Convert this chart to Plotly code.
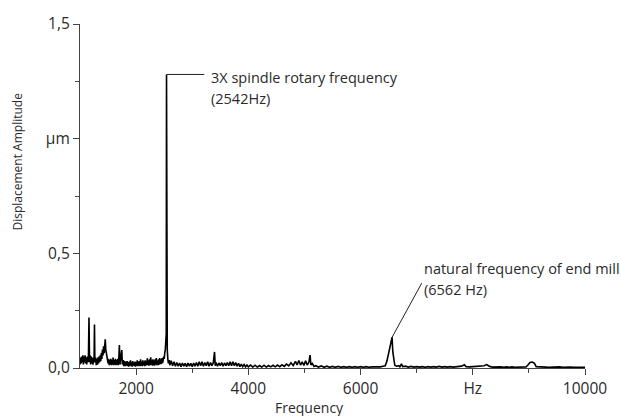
import plotly.graph_objects as go

# ---------------- data ----------------
FREQ_LOW = [1000, 1010, 1020, 1030, 1040, 1050, 1060, 1070, 1080, 1090, 1100, 1110, 1120, 1130,
            1140, 1150, 1160, 1170, 1180, 1190, 1200, 1210, 1220, 1230, 1240, 1250, 1258, 1265,
            1280, 1290, 1300, 1310, 1320, 1330, 1340, 1350, 1360, 1370, 1380, 1390, 1400, 1410,
            1420, 1430, 1440, 1450, 1460, 1470, 1480, 1490, 1500, 1510, 1520, 1530, 1540, 1550,
            1560, 1570, 1580, 1590, 1600, 1610, 1620, 1630, 1640, 1650, 1660, 1670, 1680, 1690,
            1702, 1712, 1730, 1745, 1755, 1770, 1780, 1790]
AMP_LOW = [0.015, 0.045, 0.02, 0.05, 0.025, 0.055, 0.015, 0.05, 0.025, 0.055, 0.02, 0.045, 0.015, 0.05,
           0.025, 0.045, 0.22, 0.025, 0.055, 0.015, 0.05, 0.02, 0.045, 0.015, 0.04, 0.025, 0.19, 0.025,
           0.045, 0.012, 0.04, 0.015, 0.045, 0.02, 0.05, 0.025, 0.055, 0.03, 0.065, 0.04, 0.08, 0.055,
           0.095, 0.065, 0.11, 0.125, 0.08, 0.065, 0.045, 0.04, 0.02, 0.04, 0.012, 0.035, 0.015, 0.04,
           0.012, 0.035, 0.015, 0.045, 0.012, 0.035, 0.015, 0.04, 0.012, 0.035, 0.015, 0.04, 0.012, 0.035,
           0.10, 0.015, 0.04, 0.078, 0.015, 0.035, 0.008, 0.03]

FREQ_MID1 = [1800, 1810, 1820, 1830, 1840, 1850, 1860, 1870, 1880, 1890, 1900, 1910, 1920, 1930,
             1940, 1950, 1960, 1970, 1980, 1990, 2000, 2010, 2020, 2030, 2040, 2050, 2060, 2070,
             2080, 2090, 2100, 2110, 2120, 2130, 2140, 2150, 2160, 2170, 2180, 2190, 2200, 2210,
             2220, 2230, 2240, 2250, 2260, 2270, 2280, 2290, 2300, 2310, 2320, 2330, 2340, 2350,
             2360, 2370, 2380, 2390, 2400, 2410, 2420, 2430, 2440, 2450, 2460, 2470]
AMP_MID1 = [0.025, 0.008, 0.028, 0.01, 0.03, 0.008, 0.025, 0.006, 0.028, 0.01, 0.033, 0.008, 0.025, 0.006,
            0.03, 0.01, 0.024, 0.008, 0.028, 0.006, 0.025, 0.01, 0.033, 0.008, 0.028, 0.01, 0.03, 0.008,
            0.038, 0.01, 0.028, 0.008, 0.033, 0.012, 0.028, 0.008, 0.033, 0.01, 0.03, 0.012, 0.042, 0.012,
            0.033, 0.01, 0.038, 0.012, 0.047, 0.015, 0.033, 0.01, 0.038, 0.012, 0.033, 0.01, 0.038, 0.015,
            0.043, 0.012, 0.033, 0.012, 0.038, 0.015, 0.043, 0.017, 0.038, 0.017, 0.043, 0.022]

FREQ_SPINDLE = [2480, 2490, 2500, 2510, 2520, 2530, 2537, 2542, 2547, 2555, 2565, 2575, 2590]
AMP_SPINDLE = [0.03, 0.05, 0.04, 0.065, 0.08, 0.12, 0.15, 1.28, 0.14, 0.08, 0.04, 0.02, 0.035]

FREQ_MID2 = [2600, 2625, 2650, 2675, 2700, 2725, 2750, 2775, 2800, 2825, 2850, 2875, 2900, 2925,
             2950, 2975, 3000, 3025, 3050, 3075, 3100, 3125, 3150, 3175, 3200, 3225, 3250, 3275,
             3300, 3325, 3350, 3375, 3398, 3410, 3425, 3450, 3475, 3500, 3525, 3550, 3575, 3600,
             3625, 3650, 3675, 3700, 3725, 3750, 3775, 3800, 3825, 3850, 3875, 3900, 3925, 3950, 3975]
AMP_MID2 = [0.012, 0.032, 0.01, 0.027, 0.008, 0.024, 0.008, 0.022, 0.006, 0.022, 0.008, 0.02, 0.006, 0.022,
            0.008, 0.02, 0.006, 0.022, 0.008, 0.024, 0.008, 0.027, 0.01, 0.027, 0.008, 0.024, 0.01, 0.027,
            0.008, 0.024, 0.01, 0.022, 0.07, 0.01, 0.024, 0.008, 0.022, 0.01, 0.024, 0.008, 0.022, 0.01,
            0.024, 0.01, 0.027, 0.01, 0.027, 0.01, 0.024, 0.008, 0.02, 0.006, 0.017, 0.006, 0.015, 0.005, 0.013]

FREQ_MID3 = [4000, 4040, 4080, 4120, 4160, 4200, 4240, 4280, 4320, 4360, 4400, 4440, 4480, 4520,
             4560, 4600, 4640, 4680, 4720, 4760, 4800, 4840, 4870, 4900, 4930, 4960, 4990, 5020,
             5050, 5080, 5100, 5115, 5140, 5170]
AMP_MID3 = [0.005, 0.013, 0.004, 0.012, 0.004, 0.011, 0.004, 0.012, 0.004, 0.011, 0.005, 0.012, 0.005, 0.013,
            0.006, 0.014, 0.007, 0.017, 0.009, 0.023, 0.011, 0.029, 0.013, 0.033, 0.013, 0.027, 0.011, 0.031,
            0.013, 0.026, 0.056, 0.013, 0.02, 0.007]

FREQ_MID4 = [5200, 5250, 5300, 5350, 5400, 5450, 5500, 5550, 5600, 5650, 5700, 5750, 5800, 5850,
             5900, 5950, 6000, 6050, 6100, 6150, 6200, 6250, 6300, 6350, 6400]
AMP_MID4 = [0.01, 0.004, 0.009, 0.003, 0.008, 0.003, 0.007, 0.003, 0.007, 0.003, 0.006, 0.003, 0.006, 0.003,
            0.006, 0.003, 0.006, 0.003, 0.006, 0.003, 0.005, 0.004, 0.006, 0.005, 0.008]

FREQ_MILL = [6440, 6470, 6500, 6520, 6540, 6562, 6575, 6590, 6610, 6640, 6680, 6700, 6730, 6750, 6800, 6850]
AMP_MILL = [0.01, 0.03, 0.06, 0.085, 0.11, 0.134, 0.07, 0.03, 0.012, 0.008, 0.01, 0.005, 0.018, 0.006, 0.008, 0.004]

FREQ_HIGH = [6900, 6950, 7000, 7050, 7100, 7150, 7200, 7250, 7300, 7350, 7400, 7450, 7500, 7550,
             7600, 7650, 7700, 7750, 7800, 7850, 7880, 7950, 8000, 8050, 8100, 8150, 8200, 8250,
             8300, 8350, 8400, 8450, 8500, 8550, 8600, 8650, 8700, 8750, 8800, 8850, 8900, 8950,
             8990, 9020, 9060, 9100, 9130, 9200, 9250, 9300, 9350, 9400, 9450, 9500, 9550, 9600,
             9650, 9700, 9750, 9800, 9850, 9900, 9950, 10000]
AMP_HIGH = [0.007, 0.004, 0.006, 0.004, 0.006, 0.003, 0.006, 0.004, 0.006, 0.004, 0.007, 0.004, 0.006, 0.004,
            0.006, 0.004, 0.006, 0.005, 0.008, 0.014, 0.006, 0.005, 0.006, 0.004, 0.005, 0.006, 0.01, 0.015,
            0.007, 0.004, 0.005, 0.003, 0.005, 0.003, 0.005, 0.003, 0.005, 0.003, 0.004, 0.003, 0.004, 0.005,
            0.015, 0.024, 0.026, 0.02, 0.006, 0.004, 0.003, 0.004, 0.003, 0.004, 0.003, 0.004, 0.005, 0.003,
            0.004, 0.003, 0.004, 0.003, 0.003, 0.003, 0.003, 0.003]

X_TICKS = [2000, 4000, 6000, 8000, 10000]
X_TICK_TEXT = ["2000", "4000", "6000", "Hz", "10000"]
X_MINOR = [3000, 5000, 7000, 9000]
Y_TICKS = [0, 0.5, 1.0, 1.5]
Y_TICK_TEXT = ["0,0", "0,5", "µm", "1,5"]
Y_MINOR = [0.25, 0.75, 1.25]

PEAK1_F, PEAK1_A = 2542, 1.28
PEAK2_F, PEAK2_A = 6562, 0.134
LABEL1 = ["3X spindle rotary frequency", "(2542Hz)"]
LABEL2 = ["natural frequency of end mill", "(6562 Hz)"]

freq = FREQ_LOW + FREQ_MID1 + FREQ_SPINDLE + FREQ_MID2 + FREQ_MID3 + FREQ_MID4 + FREQ_MILL + FREQ_HIGH
amp = AMP_LOW + AMP_MID1 + AMP_SPINDLE + AMP_MID2 + AMP_MID3 + AMP_MID4 + AMP_MILL + AMP_HIGH

FONT = "Open Sans"
TXT = "#2a2a2a"

fig = go.Figure()
fig.add_trace(go.Scatter(x=freq, y=amp, mode="lines",
                         line=dict(color="#000000", width=1.6), hoverinfo="skip"))

axis_common = dict(showline=True, linecolor="#444444", linewidth=1.2, ticks="outside",
                   tickcolor="#444444", ticklen=6, tickwidth=1.2, showgrid=False, zeroline=False,
                   tickfont=dict(family=FONT, size=15.5, color=TXT))

fig.update_xaxes(range=[1000, 10000], tickmode="array", tickvals=X_TICKS, ticktext=X_TICK_TEXT,
                 minor=dict(tickmode="array", tickvals=X_MINOR, ticks="outside", ticklen=4,
                            tickcolor="#444444", tickwidth=1.2),
                 **axis_common)
fig.update_yaxes(range=[0, 1.5], tickmode="array", tickvals=Y_TICKS, ticktext=Y_TICK_TEXT,
                 minor=dict(tickmode="array", tickvals=Y_MINOR, ticks="outside", ticklen=4,
                            tickcolor="#444444", tickwidth=1.2),
                 **axis_common)

# leader lines
fig.add_shape(type="line", xref="x", yref="y", x0=PEAK1_F, y0=PEAK1_A, x1=3215, y1=PEAK1_A,
              line=dict(color="#222222", width=1))
fig.add_shape(type="line", xref="x", yref="y", x0=PEAK2_F, y0=PEAK2_A, x1=7090, y1=0.37,
              line=dict(color="#222222", width=1))

ann_font = dict(family=FONT, size=14.5, color=TXT)
fig.add_annotation(x=3300, y=1.267, xref="x", yref="y", text=LABEL1[0], showarrow=False,
                   xanchor="left", yanchor="middle", font=ann_font)
fig.add_annotation(x=3300, y=1.177, xref="x", yref="y", text=LABEL1[1], showarrow=False,
                   xanchor="left", yanchor="middle", font=ann_font)
fig.add_annotation(x=7100, y=0.432, xref="x", yref="y", text=LABEL2[0], showarrow=False,
                   xanchor="left", yanchor="middle", font=ann_font)
fig.add_annotation(x=7100, y=0.342, xref="x", yref="y", text=LABEL2[1], showarrow=False,
                   xanchor="left", yanchor="middle", font=ann_font)

# axis titles
fig.add_annotation(x=-0.123, y=0.6, xref="paper", yref="paper", text="Displacement Amplitude",
                   textangle=-90, showarrow=False, xanchor="center", yanchor="middle",
                   font=dict(family=FONT, size=12, color=TXT))
fig.add_annotation(x=0.455, y=-0.115, xref="paper", yref="paper", text="Frequency",
                   showarrow=False, xanchor="center", yanchor="middle",
                   font=dict(family=FONT, size=14, color=TXT))

fig.update_layout(width=621, height=416, margin=dict(l=80, r=36, t=21, b=48),
                  paper_bgcolor="white", plot_bgcolor="white", showlegend=False,
                  font=dict(family=FONT, color=TXT))

fig.write_html("out.html")
